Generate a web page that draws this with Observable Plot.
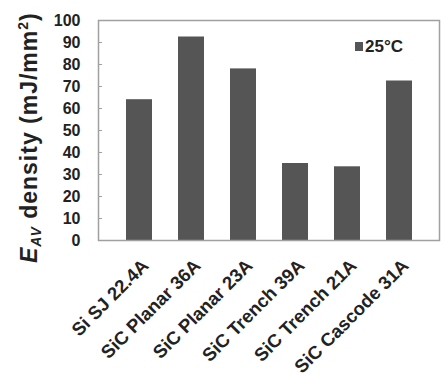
<!DOCTYPE html>
<html>
<head>
<meta charset="utf-8">
<script src="https://cdn.jsdelivr.net/npm/d3@7"></script>
<script src="https://cdn.jsdelivr.net/npm/@observablehq/plot@0.6"></script>
<style>
  html, body { margin: 0; padding: 0; background: #fff; }
  #chart { width: 441px; height: 376px; overflow: hidden; }
  svg { font-family: "Liberation Sans", Arial, sans-serif; }
</style>
</head>
<body>
<div id="chart"></div>
<script>
// Avalanche energy density per device at 25°C
const devices = ["Si SJ 22.4A", "SiC Planar 36A", "SiC Planar 23A", "SiC Trench 39A", "SiC Trench 21A", "SiC Cascode 31A"];
const density = [64, 92.5, 78, 35, 33.5, 72.5];
const yTicks = [0, 10, 20, 30, 40, 50, 60, 70, 80, 90, 100];
const seriesName = "25°C";

const data = devices.map((d, i) => ({device: d, value: density[i]}));
const barColor = "#555555";
const axisGray = "#a0a0a0";

const plot = Plot.plot({
  width: 441,
  height: 376,
  marginLeft: 98,
  marginRight: 2,
  marginTop: 20,
  marginBottom: 136,
  style: {fontFamily: "Liberation Sans, Arial, sans-serif", background: "#fff"},
  x: {domain: devices, padding: 0.5, label: null},
  y: {domain: [0, 100], label: null},
  marks: [
    Plot.barY(data, {x: "device", y: "value", fill: barColor}),
    Plot.frame({stroke: axisGray, strokeWidth: 1.5}),
    // inward tick marks on the value axis
    Plot.axisY({ticks: yTicks, tickSize: 4, dx: 4, text: null, stroke: axisGray}),
    Plot.axisY({ticks: yTicks, tickSize: 0, tickPadding: 18, fontSize: 16, fontWeight: "bold", fill: "#222", label: null}),
    Plot.axisX({tickSize: 0, tickPadding: 10, tickRotate: -45, dx: 6, dy: 12, fontSize: 18.5, fontWeight: "bold", fill: "#222", label: null})
  ]
});

document.getElementById("chart").appendChild(plot);

const svg = d3.select(plot);

// vertical axis title with italic E, subscript AV and superscript 2
const yTitle = svg.append("text")
  .attr("transform", "translate(37,263) rotate(-90)")
  .attr("text-anchor", "start")
  .attr("font-size", 23)
  .attr("font-weight", "bold")
  .attr("letter-spacing", 1)
  .attr("fill", "#222");
yTitle.append("tspan").attr("font-style", "italic").text("E");
yTitle.append("tspan").attr("font-size", 14).attr("font-style", "italic").attr("dy", 4).text("AV");
yTitle.append("tspan").attr("dy", -4).text(" density (mJ/mm");
yTitle.append("tspan").attr("font-size", 14).attr("dy", -9).text("2");
yTitle.append("tspan").attr("dy", 9).text(")");

// legend swatch and label
const legend = svg.append("g").attr("transform", "translate(355,42)");
legend.append("rect").attr("width", 8).attr("height", 9).attr("fill", barColor);
legend.append("text").attr("x", 10).attr("y", 10)
  .attr("text-anchor", "start")
  .attr("font-size", 17).attr("font-weight", "bold").attr("fill", "#222")
  .text(seriesName);
</script>
</body>
</html>
